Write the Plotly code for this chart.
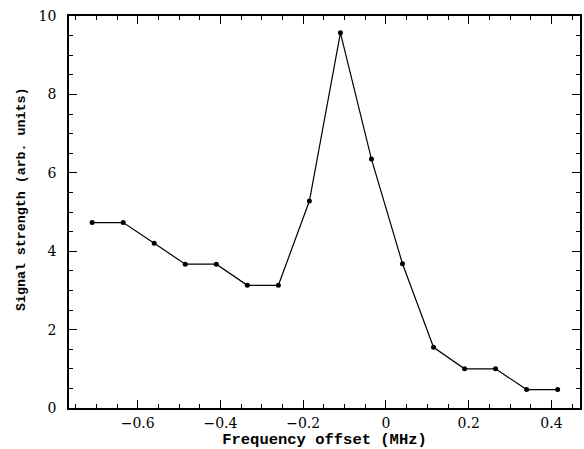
import plotly.graph_objects as go

freq_offset = [-0.71, -0.635, -0.56, -0.485, -0.41, -0.335, -0.26, -0.185,
               -0.11, -0.035, 0.04, 0.115, 0.19, 0.265, 0.34, 0.415]
signal = [4.73, 4.73, 4.2, 3.67, 3.67, 3.13, 3.13, 5.28,
          9.57, 6.35, 3.68, 1.55, 1.0, 1.0, 0.47, 0.47]
x_ticks = [-0.6, -0.4, -0.2, 0, 0.2, 0.4]
x_ticklabels = ["\u22120.6", "\u22120.4", "\u22120.2", "0", "0.2", "0.4"]
y_ticks = [0, 2, 4, 6, 8, 10]

fig = go.Figure()
fig.add_trace(go.Scatter(
    x=freq_offset, y=signal, mode="lines+markers",
    line=dict(color="black", width=1.2),
    marker=dict(color="black", size=5),
    showlegend=False,
))

tickfont = dict(family="DejaVu Serif", size=14, color="black")

fig.update_layout(
    width=584, height=449,
    margin=dict(l=69, r=4, t=16, b=41, autoexpand=False),
    paper_bgcolor="white", plot_bgcolor="white",
    xaxis=dict(
        range=[-0.766, 0.469],
        tickvals=x_ticks, ticktext=x_ticklabels,
        ticks="inside", ticklen=8, tickwidth=1.2, tickcolor="black",
        minor=dict(dtick=0.05, tick0=0, ticks="inside", ticklen=4, tickcolor="black", tickwidth=1),
        showline=True, linecolor="black", linewidth=1.5, mirror="allticks",
        showgrid=False, zeroline=False,
        tickfont=tickfont, ticklabelstandoff=1,
        title=dict(text="Frequency offset (MHz)",
                   font=dict(family="Liberation Mono", size=15.5, color="black", weight="bold"),
                   standoff=0),
    ),
    yaxis=dict(
        range=[0, 10],
        tickvals=y_ticks,
        ticks="inside", ticklen=8, tickwidth=1.2, tickcolor="black",
        minor=dict(dtick=0.5, tick0=0, ticks="inside", ticklen=4, tickcolor="black", tickwidth=1),
        showline=True, linecolor="black", linewidth=1.5, mirror="allticks",
        showgrid=False, zeroline=False,
        tickfont=tickfont, ticklabelstandoff=8,
    ),
    annotations=[dict(
        text="Signal strength (arb. units)", textangle=-90,
        xref="paper", yref="paper", x=(21 - 69) / 511, y=(408 - 200) / 392,
        xanchor="center", yanchor="middle", showarrow=False,
        font=dict(family="Liberation Mono", size=13.3, color="black", weight="bold"),
    )],
)

fig.write_html("out.html", config={"displayModeBar": False},
               post_script="document.body.style.margin='0';document.body.style.overflow='hidden';")
